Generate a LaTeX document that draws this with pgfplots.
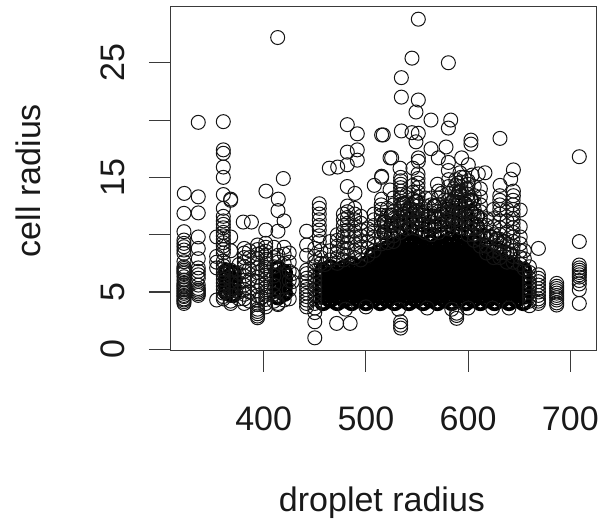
\documentclass[border=0pt]{standalone}
\usepackage{fontspec}
\setmainfont{Liberation Sans}
\usepackage{pgfplots}
\pgfplotsset{compat=1.18}
\definecolor{ax}{HTML}{3A3A3A}
\begin{document}
\begin{tikzpicture}
\useasboundingbox (-127.7pt,-129.2pt) rectangle (332.8pt,263pt);
\begin{axis}[
 at={(0,0)},anchor=south west,
 scale only axis,width=319.5pt,height=257.8pt,
 xmin=308.6,xmax=725.4,ymin=-0.12,ymax=29.87,
 axis line style={color=ax,line width=0.8pt},
 axis x line*=bottom,axis y line*=left,
 axis line style={-},
 tick align=outside,
 tick style={color=ax,line width=0.8pt},
 major tick length=16pt,
 xtick={400,500,600,700},
 ytick={0,5,10,15,20,25},
 yticklabels={0,5,,15,,25},
 /pgf/number format/assume math mode=true,
 /pgf/number format/1000 sep={},
 tick label style={font=\fontsize{25.5}{27}\selectfont,color=black!90},
 xticklabel style={yshift=-22.5pt},
 yticklabel style={rotate=90,anchor=south,yshift=14.5pt},
 xlabel={droplet radius},
 ylabel={cell radius},
 label style={font=\fontsize{25.5}{27}\selectfont,color=black!90},
 xlabel style={at={(axis description cs:0.497,-0.443)},anchor=center},
 ylabel style={at={(axis description cs:-0.334,0.495)},anchor=center,rotate=0},
 clip=false,
 extra description/.code={\draw[ax,line width=0.8pt] (rel axis cs:0,1)--(rel axis cs:1,1)--(rel axis cs:1,0);},
]
% thick: unreadable solid mass, estimated
\addplot[only marks,mark=o,mark size=5.25pt,mark options={line width=2.8pt,black}] coordinates {
(458,4.1)(458,4.65)(458,5.2)(458,5.75)(458,6.3)(458,6.85)
(465,4.35)(465,4.9)(465,5.45)(465,6)(465,6.55)(465,7.1)
(472,4.1)(472,4.65)(472,5.2)(472,5.75)(472,6.3)(472,6.85)
(479,4.35)(479,4.9)(479,5.45)(479,6)(479,6.55)(479,7.1)
(486,4.1)(486,4.65)(486,5.2)(486,5.75)(486,6.3)(486,6.85)(486,7.4)
(493,4.35)(493,4.9)(493,5.45)(493,6)(493,6.55)(493,7.1)
(500,4.1)(500,4.65)(500,5.2)(500,5.75)(500,6.3)(500,6.85)(500,7.4)
(507,4.35)(507,4.9)(507,5.45)(507,6)(507,6.55)(507,7.1)(507,7.65)(507,8.2)
(514,4.1)(514,4.65)(514,5.2)(514,5.75)(514,6.3)(514,6.85)(514,7.4)(514,7.95)(514,8.5)
(521,4.35)(521,4.9)(521,5.45)(521,6)(521,6.55)(521,7.1)(521,7.65)(521,8.2)(521,8.75)
(528,4.1)(528,4.65)(528,5.2)(528,5.75)(528,6.3)(528,6.85)(528,7.4)(528,7.95)(528,8.5)(528,9.05)
(535,4.35)(535,4.9)(535,5.45)(535,6)(535,6.55)(535,7.1)(535,7.65)(535,8.2)(535,8.75)(535,9.3)
(542,4.1)(542,4.65)(542,5.2)(542,5.75)(542,6.3)(542,6.85)(542,7.4)(542,7.95)(542,8.5)(542,9.05)(542,9.6)
(549,4.35)(549,4.9)(549,5.45)(549,6)(549,6.55)(549,7.1)(549,7.65)(549,8.2)(549,8.75)(549,9.3)
(556,4.1)(556,4.65)(556,5.2)(556,5.75)(556,6.3)(556,6.85)(556,7.4)(556,7.95)(556,8.5)(556,9.05)
(563,4.35)(563,4.9)(563,5.45)(563,6)(563,6.55)(563,7.1)(563,7.65)(563,8.2)(563,8.75)(563,9.3)
(570,4.1)(570,4.65)(570,5.2)(570,5.75)(570,6.3)(570,6.85)(570,7.4)(570,7.95)(570,8.5)(570,9.05)
(577,4.35)(577,4.9)(577,5.45)(577,6)(577,6.55)(577,7.1)(577,7.65)(577,8.2)(577,8.75)(577,9.3)
(584,4.1)(584,4.65)(584,5.2)(584,5.75)(584,6.3)(584,6.85)(584,7.4)(584,7.95)(584,8.5)(584,9.05)(584,9.6)
(591,4.35)(591,4.9)(591,5.45)(591,6)(591,6.55)(591,7.1)(591,7.65)(591,8.2)(591,8.75)(591,9.3)
(598,4.1)(598,4.65)(598,5.2)(598,5.75)(598,6.3)(598,6.85)(598,7.4)(598,7.95)(598,8.5)(598,9.05)
(605,4.35)(605,4.9)(605,5.45)(605,6)(605,6.55)(605,7.1)(605,7.65)(605,8.2)(605,8.75)(605,9.3)
(612,4.1)(612,4.65)(612,5.2)(612,5.75)(612,6.3)(612,6.85)(612,7.4)(612,7.95)(612,8.5)
(619,4.35)(619,4.9)(619,5.45)(619,6)(619,6.55)(619,7.1)(619,7.65)(619,8.2)
(626,4.1)(626,4.65)(626,5.2)(626,5.75)(626,6.3)(626,6.85)(626,7.4)(626,7.95)
(633,4.35)(633,4.9)(633,5.45)(633,6)(633,6.55)(633,7.1)(633,7.65)
(640,4.1)(640,4.65)(640,5.2)(640,5.75)(640,6.3)(640,6.85)(640,7.4)
(647,4.35)(647,4.9)(647,5.45)(647,6)(647,6.55)(647,7.1)
(654,4.1)(654,4.65)(654,5.2)(654,5.75)(654,6.3)(654,6.85)
(414,4.6)(414,5.2)(414,5.8)(414,6.4)(414,7)(420,4.9)(420,5.5)(420,6.1)(420,6.7)
(364,5)(364,5.6)(364,6.2)(364,6.8)(370,4.8)(370,5.4)(370,6)(370,6.6)
};
% medium: dense mottled zone above the solid mass
\addplot[only marks,mark=o,mark size=5.25pt,mark options={line width=1.3pt,black}] coordinates {
(518,10.2)(518,11.1)(525,9.9)(525,10.8)(525,11.7)(531,10.1)(531,11.2)(537,10.3)(537,11)(537,11.8)(537,12.7)
(543,10.5)(543,11.4)(543,12.2)(549,10.2)(549,11.1)(549,12)(549,12.9)(555,10)(555,10.9)(555,11.7)
(561,9.9)(561,10.8)(561,11.6)(567,9.9)(567,10.7)(567,11.6)(567,12.5)(574,10)(574,10.9)(574,11.8)
(580,10.2)(580,11.2)(580,12.2)(585,10.3)(585,11.1)(585,12)(585,12.9)(591,10.1)(591,11)(591,11.9)(591,12.8)(591,13.7)
(597,10)(597,10.9)(597,11.8)(597,12.7)(603,10.2)(603,11.1)(603,12)(603,13)(609,9.8)(609,10.7)(609,11.6)
(615,9.1)(615,9.9)(622,8.9)(622,9.8)(628,8.7)(628,9.6)(635,8.5)(635,9.4)(641,8.3)
};
% thin: individually visible circles and stacks
\addplot[only marks,mark=o,mark size=5.25pt,mark options={line width=0.75pt,black!92}] coordinates {
(413.7,27.2)(336,19.8)(360.5,19.86)(360.5,17.4)(360.5,17.1)(360.5,15.9)(360.5,15)(360.5,13.5)(367.7,13.1)
(322.3,13.6)(336,13.3)(419.2,14.9)(402.2,13.8)(414.3,13.1)(481.8,19.6)(491.6,18.8)(515.4,18.7)
(481.8,17.2)(491.6,17.4)(491.6,16.5)(481.8,16.1)(472.4,15.9)(464.2,15.8)(523.6,16.7)(515.4,15.1)(515.4,15)
(508.2,14.3)(481.8,14.2)(489.3,13.6)(515.4,13.1)(523.6,13.9)
(551.3,28.8)(545.1,25.4)(580.7,25)(534.7,23.7)(534.7,22)(551.3,21.75)(549,20.7)(563.7,20)(583,20)(580.7,19.3)
(517,18.7)(534.7,19.05)(545.1,18.9)(551.3,18.85)(549,18.1)(631.2,18.4)(602.8,18.25)(602.8,17.9)(708.8,16.8)
(563.7,17.5)(578.4,17.65)(525.2,16.7)(551.3,16.7)(551.3,16.4)(570.9,16.7)(593.7,16.7)(580.7,16.3)(600.2,16.1)
(533.4,15.8)(546,15.8)(580.7,15.6)(616.5,15.4)(644.3,15.65)(641.7,14.85)(631.2,14.3)(644.3,13.8)(644.3,13.4)
(592,15.4)(596,15)(600,14.7)(604,15.2)(610,15.3)(590,14.5)(598,14)(606,14.2)(570,14.4)(574,13.6)(586,14)
(322,11.86)(322,10.26)(322,9.53)(322,9.24)(322,8.95)(322,8.66)(322,8.37)(322,7.64)(322,7.2)(322,6.9)(322,6.62)(322,6.33)(322,6.04)(322,5.75)(322,5.46)(322,5.17)(322,4.88)(322,4.6)(322,4.3)(322,4)(322,5.3)(322,5)(322,4.4)(322,4.7)(322,4.15)(322,7.05)(322,6.75)(322,5.6)
(336,11.9)(336,9.8)(336,8.8)(336,7.9)(336,7.1)(336,6.8)(336,6.5)(336,6.2)(336,5.6)(336,5.3)(336,5)(336,4.7)(336,5.15)(336,4.85)
(354,9.8)(354,8.1)(354,7.1)(354,4.3)(354,7.6)
(360.5,12.3)(360.5,11.6)(360.5,11.2)(360.5,10.9)(360.5,10.6)(360.5,10.2)(360.5,9.9)(360.5,9.6)(360.5,9.3)(360.5,9)(360.5,8.7)(360.5,8.4)(360.5,7.7)(360.5,7.3)(360.5,7)(360.5,6.7)(360.5,6.4)(360.5,6.1)(360.5,5.8)(360.5,5.5)(360.5,5.2)(360.5,4.9)(360.5,4.6)(360.5,4.4)
(367.7,13)(367.7,9.8)(367.7,8.6)(367.7,6.9)(367.7,5.9)(367.7,5.2)(367.7,4.7)(367.7,4.2)(367.7,4)
(376,7.4)(376,6.6)(376,5.8)(376,5)(376,4.4)
(380,11.1)(388,11.1)(402,10.4)(414,12.1)(420,11.2)(414,10.3)
(381,8.8)(381,8.4)(381,8)(381,7.6)(381,7.2)(381,6.8)(381,6.4)(381,6)(381,5.6)(381,5.2)(381,4.8)(381,4.4)(381,4)
(386,8.6)(386,8)(386,7)(386,6)(386,5)(386,4.2)
(394,9.1)(394,8.7)(394,8.3)(394,7.9)(394,7.5)(394,7.1)(394,6.7)(394,6.3)(394,5.9)(394,5.5)(394,5.1)(394,4.7)(394,4.3)(394,3.9)(394,3.5)(394,3.3)(394,3.1)(394,2.9)(394,2.75)
(398,8.4)(398,6.9)(398,5.6)(398,4.5)
(402,9.25)(402,8.9)(402,8.55)(402,8.2)(402,7.85)(402,7.5)(402,7.15)(402,6.8)(402,6.45)(402,6.1)(402,5.75)(402,5.4)(402,5.05)(402,4.7)(402,4.35)(402,4)(402,3.7)
(410,8.9)(410,8)(410,7.2)(410,6.4)(410,5.6)(410,4.8)(410,4.2)
(414,8.2)(414,7.6)(414,4)(414,3.9)(420,8.9)(420,8.3)(420,7.5)(420,4.3)
(425,8.4)(425,7.6)(425,6.8)(425,6)(425,5.2)(425,4.4)(428,6.6)(428,5.9)
(442,10.3)(442,9.1)(442,8.2)(442,6.9)(442,6.6)(442,6.2)(442,5.9)(442,5.5)(442,5.2)(442,4.9)(442,4.6)(442,4.3)(442,4)(442,3.7)
(450,2.4)(450,1)(450,3.2)(450,3.6)(450,4)(450,4.4)(450,4.8)(450,5.2)(450,5.6)(450,6)(450,6.4)(450,6.8)(450,7.2)(450,7.6)(450,8.1)(450,8.8)
(454.4,12.7)(454.4,12.3)(454.4,11.8)(454.4,11.3)(454.4,10.8)(454.4,10.4)(454.4,9.9)(454.4,9.4)
(456,8.6)(456,8)(456,7.5)
(460,7.4)
(465,9.4)(465,8.6)(465,7.8)
(471.4,2.26)(484.6,2.26)(534,2.1)(534,2.4)(534,1.85)(588.8,2.7)(588.8,2.95)(588.8,3.15)
(472,10)(472,9.5)(472,9)(472,8.5)(472,8)(472,7.5)
(478,11.8)(478,11.3)(478,10.8)(478,10.3)(478,9.8)(478,9.3)(478,8.8)(478,8.3)(478,7.8)
(482,12.5)(482,12)(482,11.5)(482,11)(482,10.4)(482,9.9)(482,9.3)(482,8.8)(482,8.2)
(489,12.3)(489,11.8)(489,11.3)(489,10.8)(489,10.3)(489,9.8)(489,9.2)(489,8.6)(489,8)
(495,11.6)(495,11)(495,10.4)(495,9.9)(495,9.4)(495,8.9)(495,8.4)(495,7.8)
(502,10.5)(502,10)(502,9.4)(502,8.8)(502,8.2)
(508,11.8)(508,11.3)(508,10.8)(508,10.3)(508,9.8)(508,9.2)(508,8.6)
(515,12.6)(515,12.2)(515,11.7)(515,11.2)(515,10.7)(515,10.2)(515,9.7)(515,9.2)
(521,12.3)(521,11.7)(521,11)(521,10.4)(521,9.8)(521,9.3)
(527,13.2)(527,12.6)(527,12)(527,11.4)(527,10.9)(527,10.4)(527,9.9)(527,9.4)
(534,15)(534,14.7)(534,14.4)(534,14.1)(534,13.8)(534,13.5)(534,13.2)(534,12.9)(534,12.6)(534,12.3)(534,12)(534,11.7)(534,11.4)(534,11)(534,10.6)(534,10.2)
(540,13.5)(540,12.8)(540,12.2)(540,11.6)(540,11)(540,10.5)
(546,14.3)(546,13.7)(546,13.1)(546,12.6)(546,12.1)(546,11.6)(546,11.1)(546,10.6)
(551,15.3)(551,14.9)(551,14.5)(551,14.1)(551,13.7)(551,13.3)(551,12.9)(551,12.5)(551,12.1)(551,11.7)(551,11.3)(551,10.9)(551,10.5)
(558,13.2)(558,12.5)(558,11.9)(558,11.3)(558,10.7)(558,10.2)
(564,13.2)(564,12.6)(564,11.9)(564,11.2)(564,10.6)(564,10)
(571,13.8)(571,13.2)(571,12.6)(571,12)(571,11.4)(571,10.8)(571,10.2)
(577,13)(577,12.4)(577,11.8)(577,11.2)(577,10.6)
(581,14.8)(581,14.2)(581,13.6)(581,13)(581,12.5)(581,12)(581,11.5)(581,11)(581,10.5)
(588,14.8)(588,14.3)(588,13.8)(588,13.3)(588,12.8)(588,12.3)(588,11.8)(588,11.3)(588,10.8)
(593,15)(593,14.6)(593,14.2)(593,13.8)(593,13.4)(593,13)(593,12.6)(593,12.2)(593,11.8)(593,11.4)(593,11)(593,10.6)
(600,14.4)(600,14)(600,13.5)(600,13)(600,12.5)(600,12)(600,11.5)(600,11)(600,10.5)(600,10)
(606,13.4)(606,12.8)(606,12.2)(606,11.6)(606,11)(606,10.5)(606,10)(606,9.5)
(612,14)(612,13.3)(612,12.6)(612,12)(612,11.4)(612,10.8)(612,10.2)(612,9.6)(612,9)
(618,11.4)(618,10.8)(618,10.2)(618,9.6)(618,9)(618,8.4)
(625,12.2)(625,11.4)(625,10.7)(625,10)(625,9.3)(625,8.6)(625,8)
(631,13.4)(631,13)(631,12.6)(631,12.2)(631,11.8)(631,11.2)(631,10.6)(631,10)(631,9.6)(631,9.2)(631,8.8)(631,8.4)(631,8)
(638,12.2)(638,11.2)(638,10.2)(638,9.2)(638,8.4)(638,7.6)
(644,13)(644,12.6)(644,12.2)(644,11.8)(644,11.4)(644,11)(644,10.6)(644,10.2)(644,9.8)(644,9.4)(644,9)(644,8.6)(644,8.1)(644,7.6)
(651,12.15)(651,10.7)(651,9.8)(651,9.2)(651,8.6)(651,8)(651,7.4)
(655,8.6)(655,7.9)(655,7)
(660,7.2)(660,6.7)(660,6.2)(660,5.8)(660,5.4)(660,5)(660,4.6)(660,4.2)(660,3.8)
(668.8,8.8)(668.8,6.5)(668.8,6.2)(668.8,5.9)(668.8,5.6)(668.8,5.3)(668.8,5)(668.8,4.7)(668.8,4.4)(668.8,4.2)(668.8,4)
(686.7,5.75)(686.7,5.5)(686.7,5.3)(686.7,5.1)(686.7,4.9)(686.7,4.7)(686.7,4.5)(686.7,4.3)(686.7,4.05)(686.7,3.86)
(708.8,9.4)(708.8,4)(708.8,7.35)(708.8,7.1)(708.8,6.9)(708.8,6.7)(708.8,6.5)(708.8,6.3)(708.8,6)(708.8,5.7)(708.8,5.2)
(480,3.5)(500,3.7)(532,3.5)(560,3.6)(584,3.5)(600,3.6)(624,3.6)(640,3.6)
};
\end{axis}
\end{tikzpicture}
\end{document}
